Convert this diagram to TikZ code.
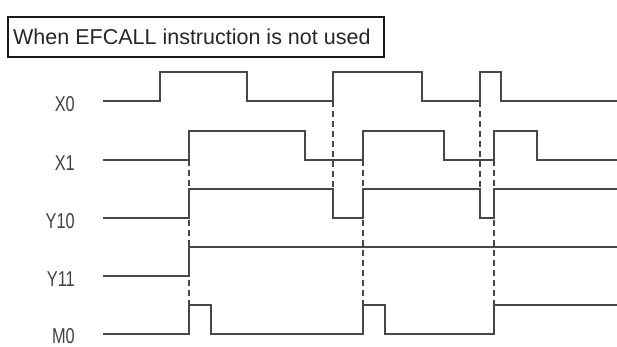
\documentclass[tikz,border=0pt]{standalone}
\usepackage{fontspec}
\setmainfont{Liberation Sans}
\usepackage{tikz}
\usetikzlibrary{calc}

\tikzset{
  wave/.style={line width=1.1pt, draw=black!72},
  guide/.style={line width=1.1pt, draw=black!72, dash pattern=on 6pt off 4pt},
  sig/.style={anchor=east, inner sep=0pt, text=black!75, font=\fontsize{21.5}{24}\selectfont},
  titlebox/.style={line width=2pt, draw=black!90},
}
\newcommand{\signame}[1]{\scalebox{0.76}[1]{#1}}

\begin{document}
\begin{tikzpicture}[x=1pt, y=-1pt]
			\useasboundingbox (0,0) rectangle (617,347);
			% title
			\draw[titlebox] (8,17) rectangle (384,57);
			\node[anchor=west, inner sep=0pt, font=\fontsize{21.5}{24}\selectfont, text=black!85] (title) at (13,37) {When EFCALL instruction is not used};
			% signal names
			\node[sig] (x0) at (75,104.5) {\signame{X0}};
			\node[sig] (x1) at (75,163.5) {\signame{X1}};
			\node[sig] (y10) at (75,221.5) {\signame{Y10}};
			\node[sig] (y11) at (75,279.5) {\signame{Y11}};
			\node[sig] (m0) at (75,336.5) {\signame{M0}};
			% waveforms
			\draw[wave] (103,101) -| (160,72) -| (247,101) -| (333,72) -| (422,101) -| (480,72) -| (501,101) -- (617,101);
			\draw[wave] (103,160) -| (189,131) -| (305,160) -| (363,131) -| (444,160) -| (494,131) -| (537,160) -- (617,160);
			\draw[wave] (103,218) -| (189,189) -| (333,218) -| (363,189) -| (480,218) -| (494,189) -- (617,189);
			\draw[wave] (103,276) -| (189,247) -- (617,247);
			\draw[wave] (103,334) -| (189,305) -| (211,334) -| (363,305) -| (385,334) -| (494,305) -- (617,305);
			% timing guides
			\draw[guide] (189,160) -- (189,305);
			\draw[guide] (333,101) -- (333,189);
			\draw[guide] (363,160) -- (363,305);
			\draw[guide] (480,101) -- (480,189);
			\draw[guide] (494,160) -- (494,305);
		\end{tikzpicture}
\end{document}
